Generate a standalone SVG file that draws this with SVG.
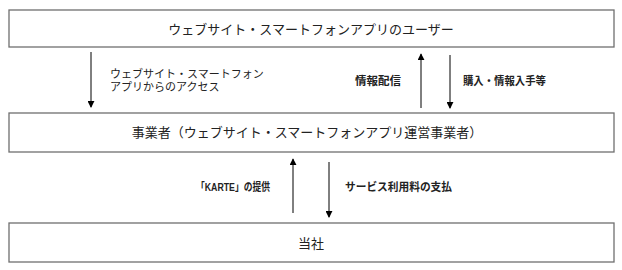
<svg xmlns="http://www.w3.org/2000/svg" width="622" height="270" viewBox="0 0 622 270">
<defs>
<marker id="ah" viewBox="0 0 8 8" refX="7" refY="4" markerWidth="7" markerHeight="7" markerUnits="userSpaceOnUse" orient="auto">
<path d="M0,0 L8,4 L0,8 z" fill="#000"/>
</marker>
<style>
.box{fill:#fff;stroke:#6f6f6f;stroke-width:1.3}
.t{font-family:"Liberation Serif","Noto Sans CJK JP",serif;font-size:13px;fill:#222;text-anchor:middle}
.s{font-family:"Liberation Serif","Noto Sans CJK JP",serif;font-size:11px;fill:#222}
.b{font-family:"Liberation Sans","Noto Sans CJK JP",sans-serif;font-size:11px;font-weight:bold;fill:#222}
.g{font-family:"Liberation Sans","Noto Sans CJK JP",sans-serif;font-size:13px;fill:#222;text-anchor:middle}
.c{stroke:#000;stroke-width:1;fill:none;marker-end:url(#ah)}
</style>
</defs>
<rect width="622" height="270" fill="#fff"/>
<g id="users">
<rect class="box" x="9" y="10" width="605" height="37"/>
<text class="t" x="311" y="34">ウェブサイト・スマートフォンアプリのユーザー</text>
</g>
<g id="operator">
<rect class="box" x="9" y="113" width="605" height="39"/>
<text class="t" x="307" y="137">事業者（ウェブサイト・スマートフォンアプリ運営事業者）</text>
</g>
<g id="company">
<rect class="box" x="9" y="223" width="605" height="39"/>
<text class="g" x="311" y="248">当社</text>
</g>
<g id="connectors">
<line class="c" x1="91" y1="52" x2="91" y2="107"/>
<line class="c" x1="421" y1="108" x2="421" y2="54"/>
<line class="c" x1="450" y1="55" x2="450" y2="108"/>
<line class="c" x1="293" y1="213" x2="293" y2="159"/>
<line class="c" x1="329" y1="162" x2="329" y2="217"/>
<text class="s" x="110" y="78">ウェブサイト・スマートフォン</text>
<text class="s" x="110" y="91">アプリからのアクセス</text>
<text class="b" x="355" y="85" textLength="46" lengthAdjust="spacingAndGlyphs">情報配信</text>
<text class="b" x="463" y="85" textLength="83" lengthAdjust="spacingAndGlyphs">購入・情報入手等</text>
<text class="b" x="196" y="191" textLength="74" lengthAdjust="spacingAndGlyphs">「KARTE」の提供</text>
<text class="b" x="345" y="191" textLength="107" lengthAdjust="spacingAndGlyphs">サービス利用料の支払</text>
</g>
</svg>
